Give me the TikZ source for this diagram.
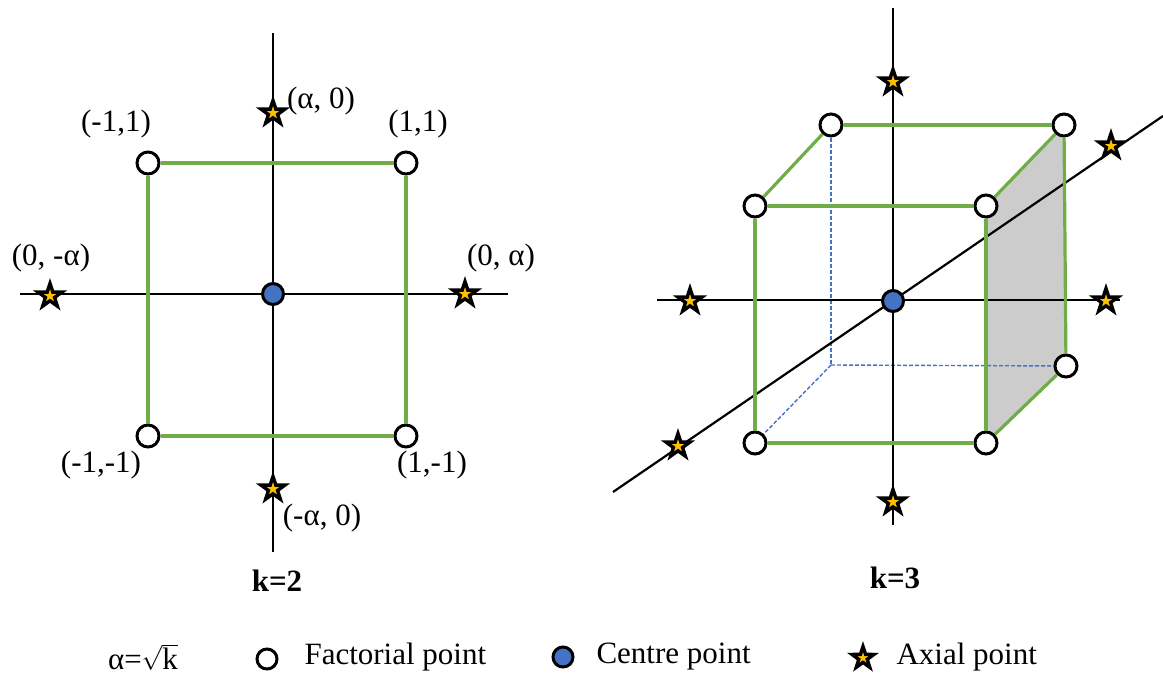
\documentclass[tikz,border=0pt]{standalone}
\usepackage{fontspec}
\setmainfont{Liberation Serif}
\usetikzlibrary{shapes.geometric,backgrounds}
\definecolor{edgegreen}{RGB}{112,173,71}
\definecolor{centreblue}{RGB}{68,114,196}
\definecolor{axialgold}{RGB}{255,192,0}
\tikzset{
  factorial/.style={circle,draw=black,line width=3,fill=white,minimum size=22,inner sep=0},
  centre/.style={circle,draw=black,line width=3,fill=centreblue,minimum size=21,inner sep=0},
  axial/.style={star,star points=5,star point ratio=2.6,draw=black,line width=3.4,fill=axialgold,minimum size=25,inner sep=0},
  axis/.style={line width=2.2},
  edge/.style={edgegreen,line width=3.2},
  hidden/.style={centreblue,dash pattern=on 4pt off 2pt,line width=1.4}
}
\begin{document}
\begin{tikzpicture}[x=1pt,y=-1pt,font=\fontsize{31}{36}\selectfont]
\useasboundingbox (0,0) rectangle (1163,675);

% k=2
\coordinate (LT) at (273,33);
\coordinate (LB) at (273,552);
\coordinate (LL) at (20,294);
\coordinate (LR) at (508,294);

\node[factorial] (a1) at (148,163) {};
\node[factorial] (a2) at (406,163) {};
\node[factorial] (a3) at (406,436) {};
\node[factorial] (a4) at (148,436) {};
\node[centre] (a0) at (273,294) {};
\node[axial] (s1) at (273,113) {};
\node[axial] (s2) at (273,489) {};
\node[axial] (s3) at (50,296) {};
\node[axial] (s4) at (465,294) {};

\begin{scope}[on background layer]
\draw[axis] (LT) -- (LB);
\draw[axis] (LL) -- (LR);
\end{scope}
\draw[edge] (a1) -- (a2);
\draw[edge] (a2) -- (a3);
\draw[edge] (a3) -- (a4);
\draw[edge] (a4) -- (a1);

\node at (321,101) {(α, 0)};
\node at (116,124) {(-1,1)};
\node at (418,124) {(1,1)};
\node at (51,258) {(0, -α)};
\node at (501,258) {(0, α)};
\node at (101,465) {(-1,-1)};
\node at (432,465) {(1,-1)};
\node at (322,518) {(-α, 0)};
\node[font=\fontsize{31}{36}\selectfont\bfseries] at (277,581) {k=2};

% k=3
\coordinate (RT) at (893,8);
\coordinate (RB) at (893,525);
\coordinate (RL) at (657,300);
\coordinate (RR) at (1120,300);
\coordinate (DL) at (613,492);
\coordinate (DR) at (1163,116);
\coordinate (h0) at (831,365);

\node[factorial] (f1) at (755,206) {};
\node[factorial] (f2) at (986,206) {};
\node[factorial] (f3) at (986,443) {};
\node[factorial] (f4) at (755,443) {};
\node[factorial] (b1) at (831,125) {};
\node[factorial] (b2) at (1064,125) {};
\node[factorial] (b3) at (1066,366) {};
\node[centre] (c0) at (893,301) {};
\node[axial] (t1) at (893,82) {};
\node[axial] (t2) at (893,502) {};
\node[axial] (t3) at (690,301) {};
\node[axial] (t4) at (1106,301) {};
\node[axial] (t5) at (1111,146) {};
\node[axial] (t6) at (678,446) {};

\begin{scope}[on background layer]
\fill[gray!40] (f2.center) -- (b2.center) -- (b3.center) -- (f3.center) -- cycle;
\draw[hidden] (b1) -- (h0);
\draw[hidden] (h0) -- (b3);
\draw[hidden] (h0) -- (f4);
\draw[axis] (RT) -- (RB);
\draw[axis] (RL) -- (RR);
\draw[axis] (DL) -- (DR);
\end{scope}
\draw[edge] (f1) -- (f2);
\draw[edge] (f2) -- (f3);
\draw[edge] (f3) -- (f4);
\draw[edge] (f4) -- (f1);
\draw[edge] (b1) -- (b2);
\draw[edge] (b2) -- (b3);
\draw[edge] (f1) -- (b1);
\draw[edge] (f2) -- (b2);
\draw[edge] (f3) -- (b3);

\node[font=\fontsize{31}{36}\selectfont\bfseries] at (895,578) {k=3};

% legend
\node at (143,657) {α=$\sqrt{\mbox{k}}$};
\node[factorial,minimum size=20] (l1) at (267,659) {};
\node[anchor=west] at (301,657) {Factorial point};
\node[centre,minimum size=20] (l2) at (563,657) {};
\node[anchor=west] at (593,657) {Centre point};
\node[axial,minimum size=23] (l3) at (863,658) {};
\node[anchor=west] at (893,657) {Axial point};
\end{tikzpicture}
\end{document}
